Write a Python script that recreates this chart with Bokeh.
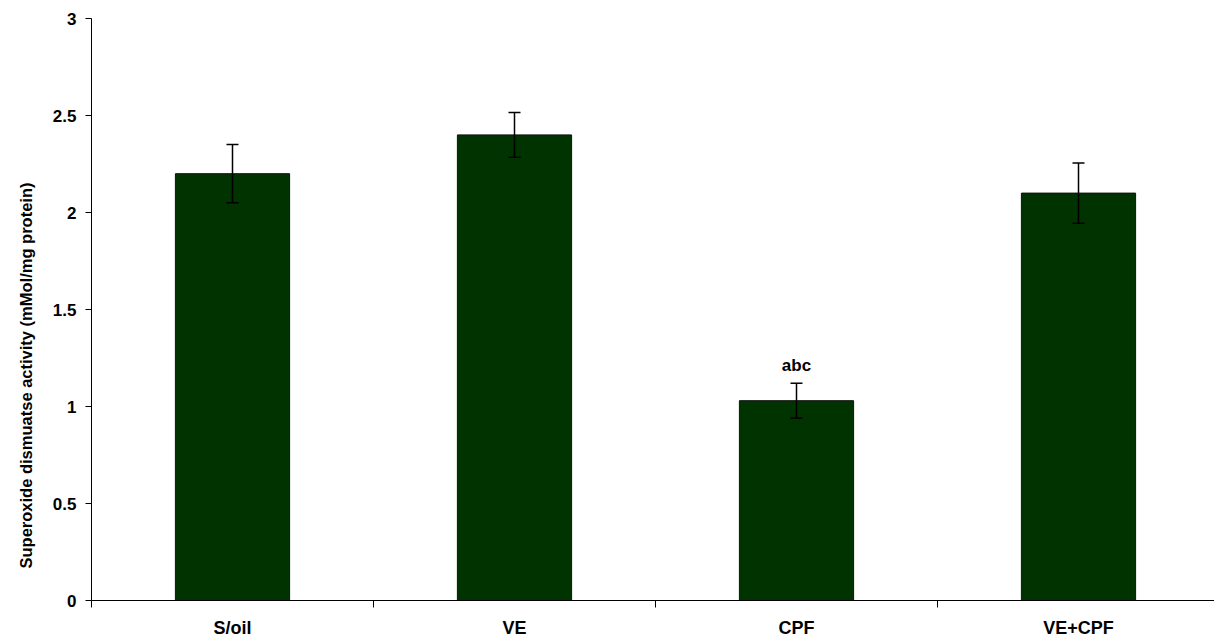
from bokeh.plotting import figure
from bokeh.models import Range1d, FixedTicker, ColumnDataSource, Whisker, LabelSet, Title
from bokeh.core.properties import value
from bokeh.embed import file_html
from bokeh.resources import INLINE

categories = ["S/oil", "VE", "CPF", "VE+CPF"]
means = [2.20, 2.40, 1.03, 2.10]
errors = [0.15, 0.115, 0.09, 0.155]
sig_labels = ["", "", "abc", ""]
y_ticks = [0, 0.5, 1, 1.5, 2, 2.5, 3]
y_title = "Superoxide dismuatse activity (mMol/mg protein)"

xpos = [i + 0.5 for i in range(len(categories))]
upper = [m + e for m, e in zip(means, errors)]
lower = [m - e for m, e in zip(means, errors)]

src = ColumnDataSource(dict(x=xpos, top=means, upper=upper, lower=lower,
                            lab=sig_labels, cat=categories))

W, H = 1214, 640
left, top_b, bottom = 91, 18, 40
frame_w = W - left
cat_px = 282.0
font = "Liberation Sans"

p = figure(width=W, height=H, output_backend="svg", toolbar_location=None,
           x_range=Range1d(0, frame_w / cat_px), y_range=Range1d(0, 3),
           min_border_left=left, min_border_right=0, min_border_top=top_b,
           min_border_bottom=bottom, outline_line_color=None)
p.xgrid.visible = False
p.ygrid.visible = False

p.vbar(x="x", top="top", bottom=0, width=0.405, source=src,
       fill_color="#003300", line_color="#111111", line_width=1)

w = Whisker(base="x", upper="upper", lower="lower", source=src,
            line_color="black", line_width=1.5, level="annotation")
for head in (w.upper_head, w.lower_head):
    head.size = 12
    head.line_width = 1.5
    head.line_color = "black"
p.add_layout(w)

labels = LabelSet(x="x", y="upper", text="lab", source=src, text_align="center",
                  text_baseline="bottom", y_offset=8, text_font=value(font),
                  text_font_style="bold", text_font_size="17px", text_color="black")
p.add_layout(labels)

ytitle = Title(text=y_title, align="left", offset=32, standoff=29,
               text_font=font, text_font_style="bold", text_font_size="16.5px",
               text_color="black")
p.add_layout(ytitle, "left")

# x axis
p.xaxis.ticker = FixedTicker(ticks=xpos, minor_ticks=[0, 1, 2, 3, 4])
p.xaxis.major_label_overrides = {x: c for x, c in zip(xpos, categories)}
p.xaxis.major_tick_out = 0
p.xaxis.major_tick_in = 0
p.xaxis.minor_tick_out = 7
p.xaxis.minor_tick_in = 0
p.xaxis.minor_tick_line_color = "black"
p.xaxis.axis_line_color = "black"
p.xaxis.major_label_text_font = font
p.xaxis.major_label_text_font_style = "bold"
p.xaxis.major_label_text_font_size = "18px"
p.xaxis.major_label_text_color = "black"
p.xaxis.major_label_standoff = 10

# y axis
p.yaxis.ticker = FixedTicker(ticks=y_ticks, minor_ticks=[])
p.yaxis.major_label_overrides = {0: "0", 1: "1", 2: "2", 3: "3"}
p.yaxis.major_tick_out = 6
p.yaxis.major_tick_in = 0
p.yaxis.axis_line_color = "black"
p.yaxis.major_tick_line_color = "black"
p.yaxis.major_label_text_font = font
p.yaxis.major_label_text_font_style = "bold"
p.yaxis.major_label_text_font_size = "17px"
p.yaxis.major_label_text_color = "black"
p.yaxis.major_label_standoff = 9

open("out.html", "w").write(file_html(p, INLINE))
